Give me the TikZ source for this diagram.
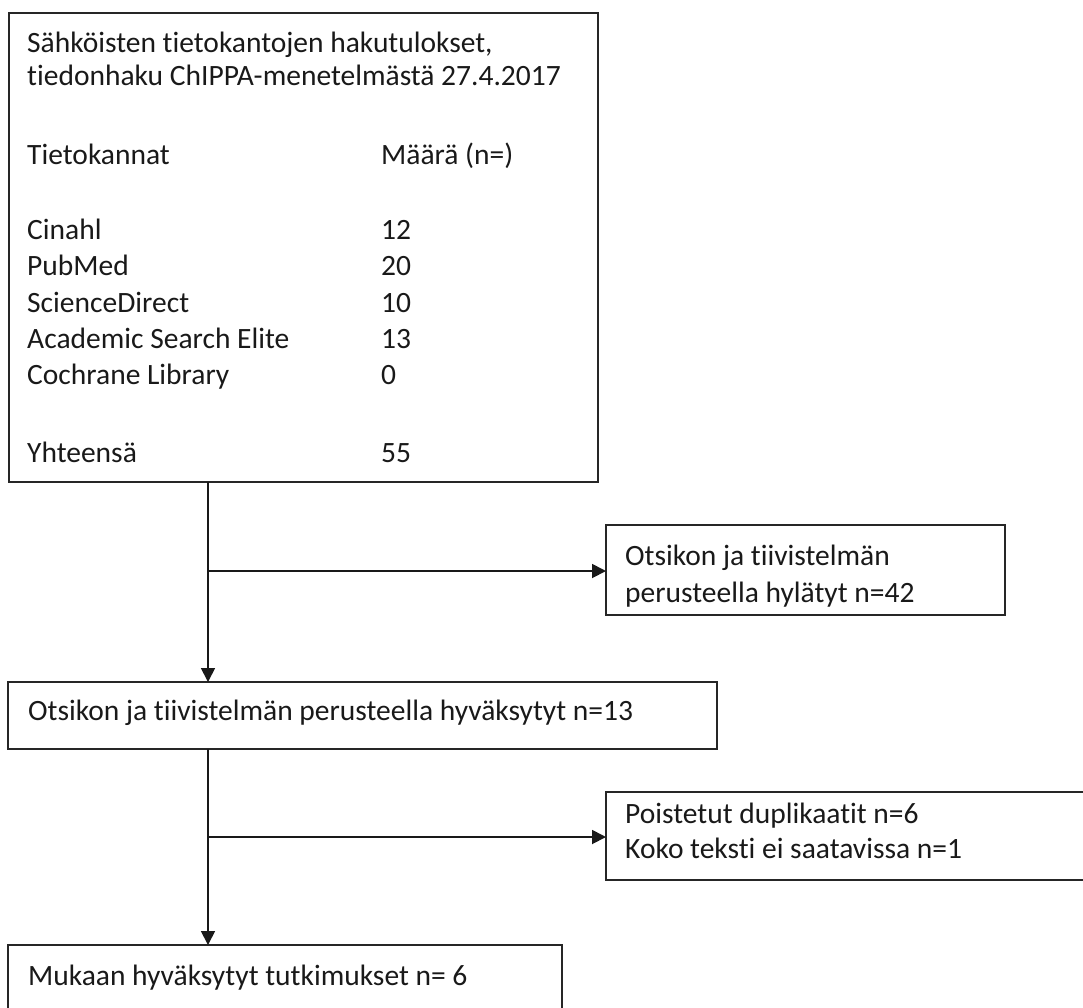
\documentclass[tikz,border=0pt]{standalone}
\usepackage{fontspec}
\setmainfont{Carlito}[RawFeature={-liga;-clig}]
\usetikzlibrary{arrows.meta}
\begin{document}
\begin{tikzpicture}[x=1pt,y=-1pt,
  frame/.style={draw=black!85, line width=1.6pt, inner sep=0pt, outer sep=0pt, anchor=north west},
  txt/.style={anchor=base west, inner sep=0pt, font=\fontsize{29.5}{36}\selectfont, text=black!90},
  conn/.style={line width=1.8pt, draw=black!90, -{Triangle[length=14pt,width=14pt]}}]
\useasboundingbox (0,0) rectangle (1083,1007);
\clip (0,0) rectangle (1083,1007);
% boxes
\node[frame, minimum width=589pt, minimum height=469pt] (b1) at (9,13) {};
\node[frame, minimum width=399pt, minimum height=90pt] (b2) at (606,525) {};
\node[frame, minimum width=709pt, minimum height=67pt] (b3) at (8,682) {};
\node[frame, minimum width=500pt, minimum height=88pt] (b4) at (606,792) {};
\node[frame, minimum width=554pt, minimum height=80pt] (b5) at (8,945) {};
% box 1 text
\node[txt] (t1) at (27,52) {Sähköisten tietokantojen hakutulokset,};
\node[txt] (t2) at (27,85) {tiedonhaku ChIPPA-menetelmästä 27.4.2017};
\node[txt] (t3) at (27,164) {Tietokannat};
\node[txt] (t3b) at (381,164) {Määrä (n=)};
\node[txt] (t4) at (27,239) {Cinahl};
\node[txt] (t4b) at (381,239) {12};
\node[txt] (t5) at (27,275) {PubMed};
\node[txt] (t5b) at (381,275) {20};
\node[txt] (t6) at (27,312) {ScienceDirect};
\node[txt] (t6b) at (381,312) {10};
\node[txt] (t7) at (27,348) {Academic Search Elite};
\node[txt] (t7b) at (381,348) {13};
\node[txt] (t8) at (27,384) {Cochrane Library};
\node[txt] (t8b) at (381,384) {0};
\node[txt] (t9) at (27,462) {Yhteensä};
\node[txt] (t9b) at (381,462) {55};
% other texts
\node[txt] (u1) at (625,565) {Otsikon ja tiivistelmän};
\node[txt] (u2) at (625,602) {perusteella hylätyt n=42};
\node[txt] (v1) at (28,720) {Otsikon ja tiivistelmän perusteella hyväksytyt n=13};
\node[txt] (w1) at (625,823) {Poistetut duplikaatit n=6};
\node[txt] (w2) at (625,858) {Koko teksti ei saatavissa n=1};
\node[txt] (x1) at (28,985) {Mukaan hyväksytyt tutkimukset n= 6};
% connectors
\coordinate (j1) at (208,571);
\coordinate (j2) at (208,837);
\draw[conn] (b1.south west -| j1) -- (b3.north west -| j1);
\draw[conn] (j1) -- (j1 -| b2.west);
\draw[conn] (b3.south west -| j2) -- (b5.north west -| j2);
\draw[conn] (j2) -- (j2 -| b4.west);
\end{tikzpicture}
\end{document}
